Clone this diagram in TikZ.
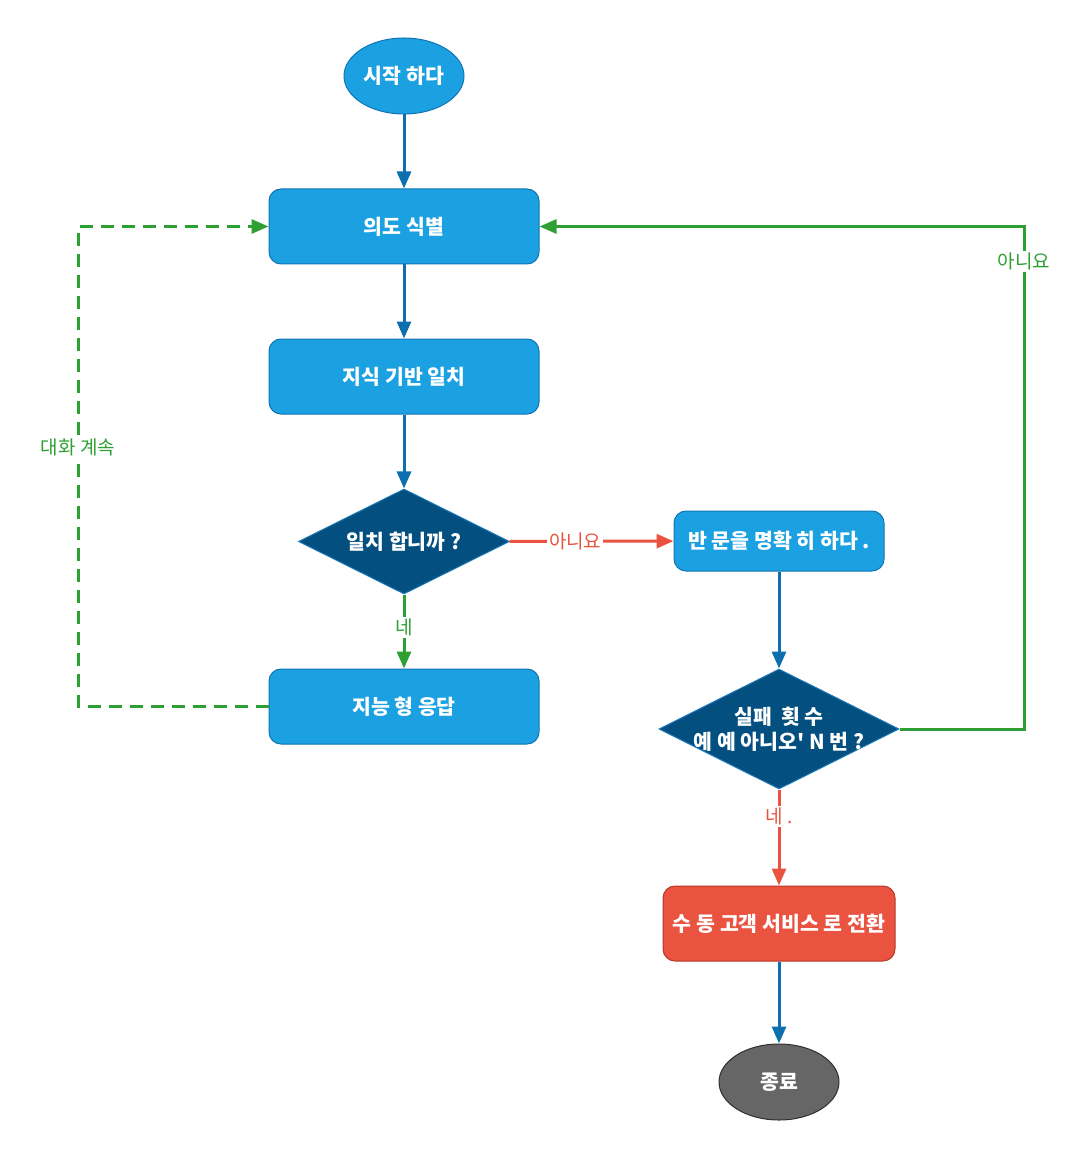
\documentclass[tikz,border=0pt]{standalone}
\usepackage{fontspec}
\setmainfont{Noto Sans CJK KR}[Ligatures=TeXOff]
\usepackage{tikz}
\usetikzlibrary{positioning,calc,arrows.meta,shapes.geometric}

\definecolor{boxblue}{HTML}{1BA1E2}
\definecolor{boxedge}{HTML}{1273B5}
\definecolor{flowblue}{HTML}{0E6FAF}
\definecolor{diadark}{HTML}{024F80}
\definecolor{diaedge}{HTML}{1C78BA}
\definecolor{loopgreen}{HTML}{2E9F32}
\definecolor{warnred}{HTML}{E9533F}
\definecolor{warnedge}{HTML}{B8372B}
\definecolor{endgray}{HTML}{666666}
\definecolor{endedge}{HTML}{2F2F2F}

\begin{document}
\begin{tikzpicture}[x=1pt,y=-1pt,
  base/.style={text=white,inner sep=0pt,line width=1pt,align=center,
               font=\fontsize{20.5}{25}\selectfont\bfseries},
  procbox/.style={base,rectangle,rounded corners=12pt,draw=boxedge,fill=boxblue,
                  minimum width=270pt,minimum height=75pt},
  decide/.style={base,diamond,aspect=2,draw=diaedge,fill=diadark,
                 minimum width=211pt,minimum height=105pt},
  terminal/.style={base,ellipse,minimum width=120pt,minimum height=76pt},
  flow/.style={line width=3pt,-{Triangle[length=17pt,width=14pt]}},
  lbl/.style={fill=white,inner sep=2pt,font=\fontsize{19}{21}\selectfont}
]

% Page frame (pixels of the reference, y grows downwards)
\useasboundingbox (0,0) rectangle (1091,1155);

% Main column of the flow
\node[terminal,fill=boxblue,draw=boxedge] (start) at (404,76)    {시작 하다};
\node[procbox]                            (intent) at (404,226.5) {의도 식별};
\node[procbox]                            (kb)     at (404,376.5) {지식 기반 일치};
\node[decide]                             (match)  at (404,541.5) {일치 합니까 ?};
\node[procbox]                            (smart)  at (404,706.5) {지능 형 응답};

% Right column: the fallback branch
\node[procbox,minimum width=210pt,minimum height=60pt]
      (clarify) at (779,541) {반 문을 명확 히 하다 .};
% (text set as a centred label so that it does not widen the diamond)
\node[decide,minimum width=240pt,minimum height=120pt,
      label={[base]center:실패 \ 횟 수\\예 예 아니오' N 번 ?}]
      (fails) at (779,729) {};
\node[procbox,fill=warnred,draw=warnedge,minimum width=232pt]
      (human) at (779,923.5) {수 동 고객 서비스 로 전환};
\node[terminal,fill=endgray,draw=endedge] (finish) at (779,1082) {종료};

% Corners of the two loops back to the intent box
\coordinate (loopLB) at (78,706.5);
\coordinate (loopLT) at (78,226.5);
\coordinate (loopRB) at (1024,729);
\coordinate (loopRT) at (1024,226.5);

% Straight arrows
\draw[flow,flowblue] (start)   -- (intent);
\draw[flow,flowblue] (intent)  -- (kb);
\draw[flow,flowblue] (kb)      -- (match);
\draw[flow,flowblue] (clarify) -- (fails);
\draw[flow,flowblue] (human)   -- (finish);

% Answers of the two questions
\draw[flow,warnred]   (match) -- node[lbl,text=warnred,pos=0.4]{아니요} (clarify);
\draw[flow,loopgreen] (match) -- node[lbl,text=loopgreen,pos=0.45]{네} (smart);
\draw[flow,warnred]   (fails) -- node[lbl,text=warnred,pos=0.28]{네 .} (human);

% Loops back (dashed: the conversation goes on)
\draw[flow,loopgreen,dash pattern=on 13pt off 8pt]
      (smart.west) -- (loopLB)
      -- node[lbl,text=loopgreen,pos=0.54]{대화 계속} (loopLT)
      -- (intent.west);
\draw[flow,loopgreen]
      (fails.east) -- (loopRB)
      -- node[lbl,text=loopgreen,pos=0.93]{아니요} (loopRT)
      -- (intent.east);
\end{tikzpicture}
\end{document}
